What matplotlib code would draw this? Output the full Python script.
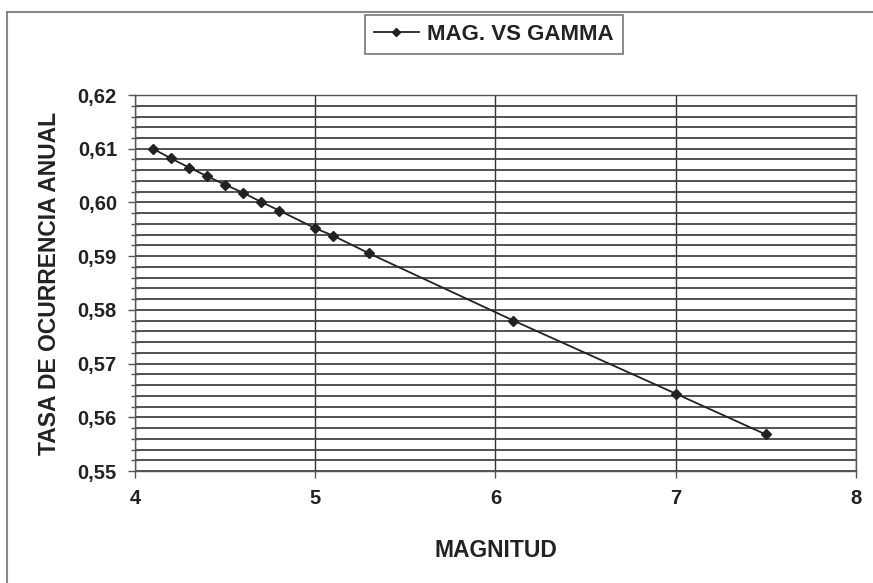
import numpy as np
import matplotlib
matplotlib.use("Agg")
import matplotlib.pyplot as plt
from matplotlib.patches import Rectangle
from matplotlib.ticker import MultipleLocator, FuncFormatter

# -------------------- Data --------------------
magnitud = [4.1, 4.2, 4.3, 4.4, 4.5, 4.6, 4.7, 4.8, 5.0, 5.1, 5.3, 6.1, 7.0, 7.5]
tasa_anual = [0.6100, 0.6082, 0.6065, 0.6049, 0.6033, 0.6018, 0.6001, 0.5985,
              0.5952, 0.5938, 0.5905, 0.5780, 0.5644, 0.5568]
serie_label = "MAG. VS GAMMA"
x_label = "MAGNITUD"
y_label = "TASA DE OCURRENCIA ANUAL"

# -------------------- Style --------------------
plt.rcParams["font.family"] = ["Liberation Sans", "DejaVu Sans"]
plt.rcParams["font.weight"] = "bold"
ink = "#222222"

fig = plt.figure(figsize=(8.73, 5.83), dpi=100)
ax = fig.add_axes([0.1546, 0.1921, 0.8259, 0.6449])

(line,) = ax.plot(magnitud, tasa_anual, color=ink, linewidth=1.3,
                  marker="D", markersize=5, markerfacecolor=ink,
                  markeredgecolor=ink, label=serie_label)

ax.set_xlim(4, 8)
ax.set_ylim(0.55, 0.62)
ax.xaxis.set_major_locator(MultipleLocator(1))
ax.yaxis.set_major_locator(MultipleLocator(0.01))
ax.yaxis.set_minor_locator(MultipleLocator(0.002))
ax.yaxis.set_major_formatter(FuncFormatter(lambda v, _: f"{v:.2f}".replace(".", ",")))

# gridlines: vertical at each unit, horizontal every 0.002
ax.grid(which="major", axis="x", color="#333333", linewidth=1.0)
ax.grid(which="both", axis="y", color="#444444", linewidth=1.3)
ax.set_axisbelow(True)

ax.tick_params(axis="both", which="major", direction="out", length=5,
               width=1, color="#555555", labelsize=14.5, pad=8)
ax.tick_params(axis="y", which="minor", direction="inout", length=6,
               width=1, color="#555555")
for lbl in ax.get_xticklabels() + ax.get_yticklabels():
    lbl.set_fontweight("bold")
    lbl.set_color(ink)

for side in ["left", "bottom", "right", "top"]:
    ax.spines[side].set_color("#555555")
    ax.spines[side].set_linewidth(1.0)

ax.set_xlabel(x_label, fontsize=16.5, fontweight="bold", color=ink, labelpad=22)
ax.set_ylabel(y_label, fontsize=16.5, fontweight="bold", color=ink, labelpad=12)

leg = fig.legend(handles=[line], loc="center", bbox_to_anchor=(0.566, 0.941),
                 fontsize=16, frameon=True, fancybox=False, handlelength=2.0,
                 borderpad=0.4, handletextpad=0.4, markerscale=0.9)
leg.get_frame().set_edgecolor("#555555")
leg.get_frame().set_linewidth(1.2)
for t in leg.get_texts():
    t.set_fontweight("bold")
    t.set_color(ink)

# outer chart-area frame
fig.patches.append(Rectangle((7 / 873, -0.05), 1.2, 1 - 12 / 583 + 0.05,
                             transform=fig.transFigure, fill=False,
                             edgecolor="#888888", linewidth=1.5))

fig.savefig("out.png", dpi=100)
